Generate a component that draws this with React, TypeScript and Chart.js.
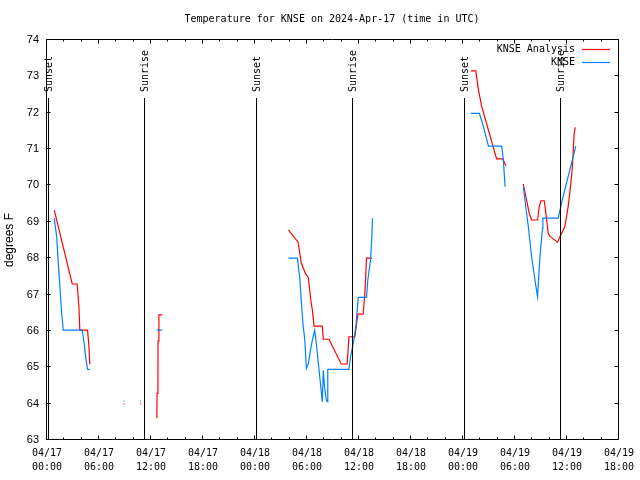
import React, { useEffect, useRef } from 'react';
import { Chart, registerables } from 'chart.js';

Chart.register(...registerables);

const TITLE = 'Temperature for KNSE on 2024-Apr-17 (time in UTC)';
const Y_TITLE = 'degrees F';
const SERIES_NAMES = ['KNSE Analysis', 'KNSE'];

// x axis: hours since 04/17 00:00 UTC
const X_MIN = 0;
const X_MAX = 66;
const X_MINOR_STEP = 2;
const X_MAJOR_STEP = 6;
const X_DATE_LABELS = ['04/17', '04/17', '04/17', '04/17', '04/18', '04/18', '04/18', '04/18', '04/19', '04/19', '04/19', '04/19'];
const X_TIME_LABELS = ['00:00', '06:00', '12:00', '18:00', '00:00', '06:00', '12:00', '18:00', '00:00', '06:00', '12:00', '18:00'];

const Y_MIN = 63;
const Y_MAX = 74;

// Sun events (hours since 04/17 00:00 UTC)
const SUN_LABELS = ['Sunset', 'Sunrise', 'Sunset', 'Sunrise', 'Sunset', 'Sunrise'];
const SUN_HOURS = [0.2, 11.3, 24.26, 35.33, 48.26, 59.37];

// KNSE Analysis (red); null temperature = gap
const analysisHours = [
  0.84, 2.91, 3.48, 3.68, 3.79, 4.68, 4.83, 4.94,
  6.5,
  8.85, 8.95,
  9.8,
  10.77, 10.87,
  12.0,
  12.68, 12.70, 12.80, 12.81, 12.91, 12.92, 13.30,
  20.0,
  27.86, 28.98, 29.35, 29.86, 30.16, 30.44, 30.62, 30.82, 31.77, 31.88, 32.54, 33.95, 34.64, 34.84, 35.53, 35.87, 36.48, 36.68, 36.87, 37.52,
  43.0,
  48.90, 49.48, 49.79, 50.17, 50.94, 51.59, 51.89, 52.58, 52.97,
  54.0,
  54.96, 55.34, 55.65, 55.92, 56.61, 56.80, 57.00, 57.38, 57.57, 57.84, 58.05, 58.91, 59.37, 59.76, 60.14, 60.45, 60.63, 60.83, 60.97,
];
const analysisTemps = [
  69.32, 67.29, 67.29, 66.67, 66.02, 66.02, 65.61, 65.08,
  null,
  64.0, 64.0,
  null,
  64.0, 64.0,
  null,
  63.6, 64.28, 64.3, 65.72, 65.75, 66.44, 66.44,
  null,
  68.77, 68.44, 67.86, 67.56, 67.47, 66.85, 66.57, 66.13, 66.13, 65.77, 65.77, 65.09, 65.09, 65.84, 65.84, 66.46, 66.46, 67.03, 68.0, 68.0,
  null,
  73.15, 73.15, 72.62, 72.17, 71.52, 70.97, 70.73, 70.73, 70.54,
  null,
  70.04, 69.6, 69.23, 69.05, 69.05, 69.42, 69.58, 69.58, 69.23, 68.68, 68.6, 68.44, 68.68, 68.87, 69.42, 70.06, 70.52, 71.43, 71.6,
];

// KNSE observations (blue)
const knseHours = [
  0.84, 1.12, 1.30, 1.49, 1.69, 1.81, 1.87, 4.06, 4.29, 4.48, 4.68, 4.94,
  6.5,
  8.85, 8.95,
  9.8,
  10.77, 10.87,
  12.0,
  12.68, 13.30,
  20.0,
  27.86, 28.90, 29.17, 29.35, 29.55, 29.75, 29.93, 30.16, 30.44, 30.62, 30.89, 31.08, 31.31, 31.59, 31.77, 31.88, 32.02, 32.23, 32.39, 32.40, 34.84, 35.03, 35.41, 35.68, 35.91, 36.87, 37.02, 37.33, 37.48, 37.56,
  43.0,
  48.90, 49.90, 50.36, 50.94, 52.47, 52.66, 52.86,
  54.0,
  54.96, 55.54, 55.92, 56.31, 56.61, 56.88, 57.18, 57.22, 58.99, 59.37, 59.94, 60.52, 61.02,
];
const knseTemps = [
  69.1, 68.59, 67.86, 67.22, 66.48, 66.21, 66.02, 66.02, 65.66, 65.25, 64.94, 64.94,
  null,
  64.07, 64.07,
  null,
  64.07, 64.07,
  null,
  66.02, 66.02,
  null,
  68.0, 68.0, 67.44, 66.8, 66.16, 65.75, 64.97, 65.1, 65.52, 65.75, 66.02, 65.66, 65.11, 64.47, 64.05, 64.92, 64.47, 64.1, 64.05, 64.94, 64.94, 65.29, 65.75, 66.21, 66.92, 66.92, 67.4, 67.95, 68.55, 69.1,
  null,
  71.98, 71.98, 71.62, 71.08, 71.08, 70.7, 69.97,
  null,
  69.97, 68.87, 68.04, 67.4, 66.94, 68.04, 68.82, 69.1, 69.1, 69.51, 70.06, 70.61, 71.08,
];

const RED = 'rgb(255,0,0)';
const BLUE = 'rgb(0,128,255)';
const MONO = "'DejaVu Sans Mono', monospace";
const SANS = "'Liberation Sans', Arial, sans-serif";

function toPoints(hours: number[], temps: (number | null)[]) {
  return hours.map((h, i) => ({ x: h, y: temps[i] }));
}

const gnuplotPlugin = {
  id: 'gnuplotDecor',
  afterDraw(chart: any) {
    const { ctx, chartArea: a, scales } = chart;
    const xs = scales.x;
    const ys = scales.y;
    ctx.save();
    ctx.strokeStyle = '#000';
    ctx.lineWidth = 1;
    const L = Math.round(a.left) - 0.5;
    const R = Math.round(a.right) - 0.5;
    const T = Math.round(a.top) - 0.5;
    const B = Math.round(a.bottom) - 0.5;
    ctx.beginPath();
    ctx.rect(L, T, R - L, B - T);
    for (let h = X_MIN; h <= X_MAX; h += X_MINOR_STEP) {
      const px = Math.round(xs.getPixelForValue(h)) - 0.5;
      const len = h % X_MAJOR_STEP === 0 ? 4 : 2;
      ctx.moveTo(px, B);
      ctx.lineTo(px, B - len);
      ctx.moveTo(px, T);
      ctx.lineTo(px, T + len);
    }
    for (let v = Y_MIN; v <= Y_MAX; v += 1) {
      const py = Math.round(ys.getPixelForValue(v)) - 0.5;
      ctx.moveTo(L, py);
      ctx.lineTo(L + 4, py);
      ctx.moveTo(R, py);
      ctx.lineTo(R - 4, py);
    }
    ctx.stroke();

    // sun lines
    ctx.font = `10px ${MONO}`;
    ctx.fillStyle = '#000';
    SUN_HOURS.forEach((h, i) => {
      const px = Math.round(xs.getPixelForValue(h)) - 0.5;
      ctx.beginPath();
      ctx.moveTo(px, 98);
      ctx.lineTo(px, B);
      ctx.stroke();
      ctx.save();
      ctx.translate(px + 0.5, 92);
      ctx.rotate(-Math.PI / 2);
      ctx.textAlign = 'left';
      ctx.textBaseline = 'middle';
      ctx.fillText(SUN_LABELS[i], 0, 0);
      ctx.restore();
    });

    // title
    ctx.font = `10px ${MONO}`;
    ctx.textAlign = 'center';
    ctx.textBaseline = 'middle';
    ctx.fillText(TITLE, 332, 19);

    // y title
    ctx.save();
    ctx.font = `12px ${SANS}`;
    ctx.translate(10, 240);
    ctx.rotate(-Math.PI / 2);
    ctx.textAlign = 'center';
    ctx.textBaseline = 'middle';
    ctx.fillText(Y_TITLE, 0, 0);
    ctx.restore();

    // legend
    const colors = [RED, BLUE];
    const legendY = [49, 62];
    ctx.font = `10px ${MONO}`;
    ctx.textAlign = 'right';
    ctx.textBaseline = 'middle';
    SERIES_NAMES.forEach((name, i) => {
      ctx.fillStyle = '#000';
      ctx.fillText(name, 575, legendY[i]);
      ctx.strokeStyle = colors[i];
      ctx.lineWidth = 1.2;
      ctx.beginPath();
      ctx.moveTo(582, legendY[i] + 0.5);
      ctx.lineTo(610, legendY[i] + 0.5);
      ctx.stroke();
    });
    ctx.restore();
  },
};

export default function App() {
  const ref = useRef<HTMLCanvasElement>(null);
  useEffect(() => {
    const canvas = ref.current;
    if (!canvas) return;
    const chart = new Chart(canvas, {
      type: 'line',
      data: {
        datasets: [
          {
            label: SERIES_NAMES[1],
            data: toPoints(knseHours, knseTemps),
            borderColor: BLUE,
            borderWidth: 1.2,
            pointRadius: 0,
            fill: false,
            spanGaps: false,
            tension: 0,
          },
          {
            label: SERIES_NAMES[0],
            data: toPoints(analysisHours, analysisTemps),
            borderColor: RED,
            borderWidth: 1.2,
            pointRadius: 0,
            fill: false,
            spanGaps: false,
            tension: 0,
          },
        ],
      },
      options: {
        responsive: false,
        animation: false,
        devicePixelRatio: 1,
        layout: { padding: { top: 40, right: 19, left: 0, bottom: 0 } },
        plugins: {
          legend: { display: false },
          title: { display: false },
          tooltip: { enabled: false },
        },
        scales: {
          x: {
            type: 'linear',
            min: X_MIN,
            max: X_MAX,
            grid: { display: false, drawTicks: false, tickLength: 0 },
            border: { display: false },
            afterFit: (s: any) => { s.height = 40; },
            afterBuildTicks: (s: any) => {
              const t = [];
              for (let h = X_MIN; h <= X_MAX; h += X_MAJOR_STEP) t.push({ value: h });
              s.ticks = t;
            },
            ticks: {
              autoSkip: false,
              maxRotation: 0,
              minRotation: 0,
              padding: 6,
              color: '#000',
              font: { family: MONO, size: 10, lineHeight: 1.4 },
              callback: (v: any) => {
                const i = Math.round(Number(v) / X_MAJOR_STEP);
                return [X_DATE_LABELS[i], X_TIME_LABELS[i]];
              },
            },
          },
          y: {
            type: 'linear',
            min: Y_MIN,
            max: Y_MAX,
            grid: { display: false, drawTicks: false, tickLength: 0 },
            border: { display: false },
            afterFit: (s: any) => { s.width = 47; },
            ticks: {
              stepSize: 1,
              padding: 8,
              color: '#000',
              font: { family: SANS, size: 11 },
            },
          },
        },
      },
      plugins: [gnuplotPlugin],
    });
    return () => chart.destroy();
  }, []);
  return (
    <div style={{ position: 'absolute', left: 0, top: 0, width: 640, height: 480, background: '#fff' }}>
      <canvas ref={ref} width={640} height={480} style={{ display: 'block', width: 640, height: 480 }} />
    </div>
  );
}
